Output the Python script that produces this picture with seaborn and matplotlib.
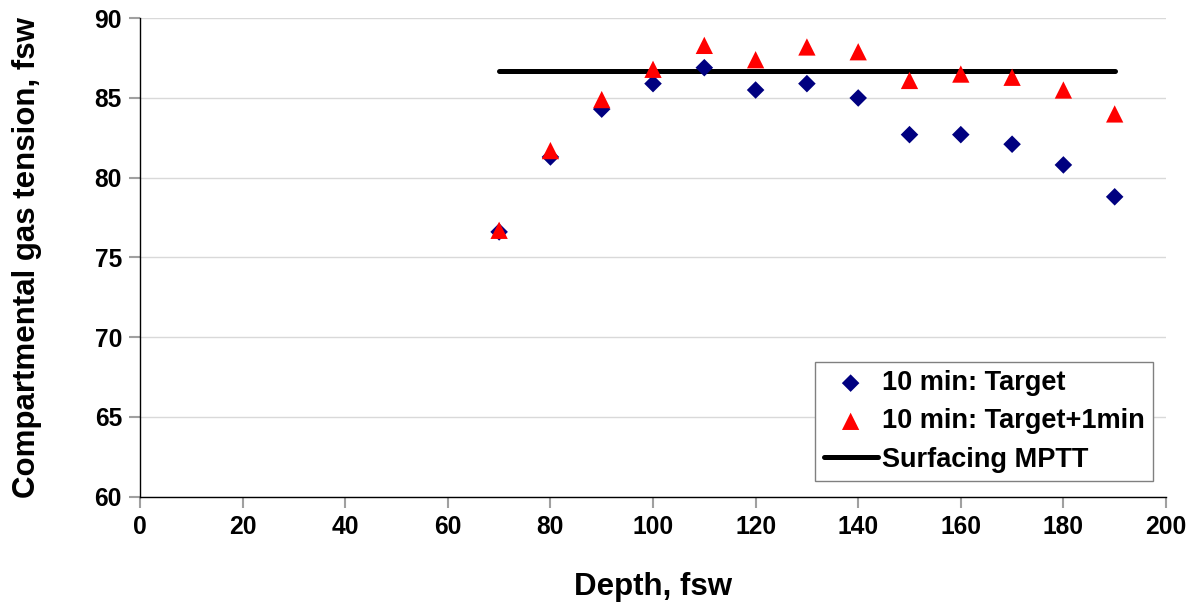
import seaborn as sns
import matplotlib
matplotlib.use("Agg")
import matplotlib.pyplot as plt
import pandas as pd

depth = [70, 80, 90, 100, 110, 120, 130, 140, 150, 160, 170, 180, 190]
target = [76.6, 81.3, 84.3, 85.9, 86.9, 85.5, 85.9, 85.0, 82.7, 82.7, 82.1, 80.8, 78.8]
target_1min = [76.7, 81.7, 84.9, 86.8, 88.3, 87.4, 88.2, 87.9, 86.1, 86.5, 86.3, 85.5, 84.0]
mptt_depth = [70, 190]
mptt = [86.7, 86.7]

sns.set_style("white", rc={"text.color": "black", "axes.labelcolor": "black",
                           "xtick.color": "black", "ytick.color": "black"})
plt.rcParams['font.family'] = ['Liberation Sans', 'DejaVu Sans']
plt.rcParams['font.weight'] = 'bold'

fig, ax = plt.subplots(figsize=(11.96, 6.05), dpi=100)
fig.subplots_adjust(left=0.1171, right=0.9749, top=0.9698, bottom=0.1793)

df = pd.DataFrame({"Depth": depth, "Target": target, "Target1": target_1min})
line_df = pd.DataFrame({"Depth": mptt_depth, "MPTT": mptt})

sns.scatterplot(data=df, x="Depth", y="Target", ax=ax, marker="D", s=80,
                color="#000080", edgecolor="none", label="10 min: Target", zorder=3)
sns.scatterplot(data=df, x="Depth", y="Target1", ax=ax, marker="^", s=155,
                color="#ff0000", edgecolor="none", label="10 min: Target+1min", zorder=4)
sns.lineplot(data=line_df, x="Depth", y="MPTT", ax=ax, color="black", lw=3.6,
             solid_capstyle="round", label="Surfacing MPTT", zorder=2)

ax.set_xlim(0, 200)
ax.set_ylim(60, 90)
ax.set_xticks(range(0, 201, 20))
ax.set_yticks(range(60, 91, 5))
ax.yaxis.grid(True, color="#d9d9d9", lw=1)
ax.set_axisbelow(True)
for s in ["top", "right"]:
    ax.spines[s].set_visible(False)
for s in ["left", "bottom"]:
    ax.spines[s].set_color("black")
    ax.spines[s].set_linewidth(1)
ax.tick_params(axis="both", direction="out", length=8, width=1.5, color="#a0a0a0",
               labelcolor="black", labelsize=17.7, pad=5, bottom=True, left=True)
for lbl in ax.get_xticklabels() + ax.get_yticklabels():
    lbl.set_fontweight("bold")

ax.set_xlabel("Depth, fsw", fontsize=22.5, fontweight="bold", labelpad=24, color="black")
ax.set_ylabel("Compartmental gas tension, fsw", fontsize=22.5, fontweight="bold",
              labelpad=38, color="black")

leg = ax.legend(loc="lower right", bbox_to_anchor=(0.987, 0.033), fontsize=19.5,
                frameon=True, fancybox=False, edgecolor="#808080", framealpha=1,
                borderpad=0.3, labelspacing=0.45, handletextpad=0.15, handlelength=2.0,
                borderaxespad=0)
for t in leg.get_texts():
    t.set_fontweight("bold")
    t.set_color("black")

plt.savefig("out.png", dpi=100)
